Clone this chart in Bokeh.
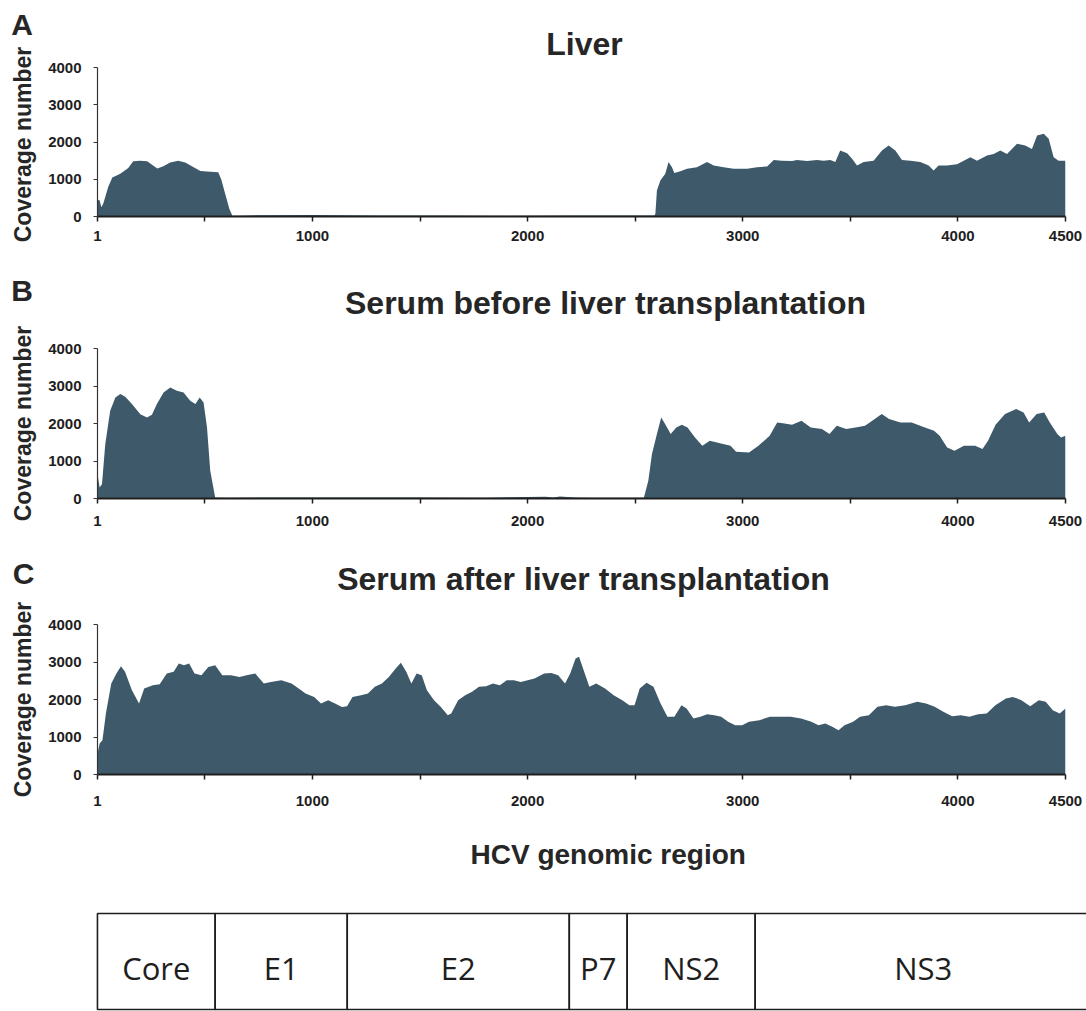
import numpy as np
from bokeh.plotting import figure
from bokeh.layouts import column, row
from bokeh.models import Range1d, FixedTicker
from bokeh.core.properties import value
from bokeh.embed import file_html
from bokeh.resources import INLINE

# ---------------- data ----------------
a_pos = [1, 10, 19, 28, 51, 70, 107, 144, 167, 200, 232, 256, 279, 307, 339, 376, 409, 446, 479, 525,
         562, 576, 595, 614, 628, 700, 1000, 1300, 1600, 1900, 2200, 2500, 2590, 2594, 2601, 2617, 2640,
         2655, 2671, 2682, 2710, 2741, 2787, 2834, 2865, 2911, 2958, 3020, 3066, 3113, 3144, 3182, 3229,
         3252, 3299, 3345, 3376, 3407, 3430, 3453, 3485, 3508, 3531, 3562, 3608, 3647, 3678, 3709, 3740,
         3779, 3825, 3864, 3887, 3910, 3949, 3996, 4027, 4058, 4089, 4135, 4166, 4197, 4228, 4275, 4313,
         4344, 4368, 4399, 4422, 4445, 4468, 4500]
a_cov = [430, 450, 250, 350, 800, 1050, 1150, 1300, 1480, 1500, 1480, 1380, 1290, 1350, 1450, 1500, 1450,
         1330, 1220, 1200, 1190, 1000, 600, 200, 20, 30, 40, 25, 30, 20, 30, 25, 30, 80, 700, 967, 1150,
         1460, 1325, 1165, 1216, 1280, 1325, 1460, 1370, 1325, 1280, 1280, 1325, 1340, 1520, 1500, 1490,
         1520, 1490, 1520, 1500, 1520, 1460, 1770, 1700, 1550, 1370, 1460, 1500, 1770, 1906, 1770, 1520,
         1500, 1460, 1370, 1235, 1370, 1370, 1400, 1500, 1590, 1500, 1640, 1680, 1770, 1680, 1950, 1906,
         1815, 2175, 2220, 2085, 1590, 1500, 1500]

b_pos = [1, 11, 22, 37, 60, 84, 107, 130, 161, 200, 231, 254, 277, 308, 339, 370, 401, 432, 456, 476,
         494, 510, 525, 548, 600, 900, 1200, 1500, 1800, 2083, 2120, 2150, 2222, 2300, 2540, 2543, 2561,
         2578, 2601, 2621, 2639, 2665, 2691, 2717, 2743, 2778, 2812, 2847, 2899, 2943, 2969, 3029, 3073,
         3125, 3160, 3194, 3229, 3273, 3316, 3368, 3403, 3437, 3481, 3524, 3568, 3602, 3646, 3680, 3733,
         3785, 3837, 3889, 3915, 3950, 3984, 4028, 4080, 4114, 4140, 4175, 4219, 4271, 4305, 4331, 4366,
         4401, 4427, 4462, 4479, 4500]
b_cov = [650, 293, 384, 1450, 2339, 2694, 2784, 2712, 2517, 2250, 2160, 2232, 2517, 2827, 2960, 2872,
         2827, 2606, 2517, 2694, 2560, 1893, 739, 27, 20, 30, 25, 30, 20, 50, 30, 55, 25, 20, 20, 80, 472,
         1184, 1717, 2160, 1984, 1717, 1893, 1965, 1893, 1627, 1405, 1539, 1467, 1405, 1245, 1227, 1405,
         1672, 2027, 2000, 1965, 2072, 1893, 1851, 1717, 1939, 1851, 1893, 1939, 2072, 2251, 2118, 2027,
         2027, 1911, 1806, 1672, 1360, 1272, 1405, 1405, 1317, 1539, 1965, 2251, 2384, 2294, 2027, 2251,
         2294, 2027, 1717, 1627, 1672]

c_pos = [1, 11, 24, 40, 65, 89, 110, 129, 161, 194, 218, 258, 290, 323, 355, 379, 403, 427, 452, 484,
         516, 548, 581, 621, 661, 694, 734, 774, 807, 855, 903, 936, 968, 1008, 1040, 1073, 1105, 1137,
         1161, 1186, 1226, 1258, 1290, 1323, 1355, 1387, 1411, 1436, 1460, 1484, 1508, 1532, 1565, 1597,
         1629, 1645, 1677, 1710, 1742, 1774, 1807, 1839, 1871, 1903, 1936, 1968, 2000, 2032, 2077, 2110,
         2142, 2174, 2198, 2223, 2239, 2263, 2287, 2319, 2360, 2400, 2440, 2473, 2497, 2521, 2553, 2585,
         2618, 2650, 2682, 2715, 2739, 2771, 2803, 2835, 2868, 2900, 2932, 2965, 2997, 3029, 3077, 3126,
         3174, 3223, 3271, 3319, 3352, 3384, 3416, 3445, 3473, 3513, 3545, 3586, 3626, 3666, 3707, 3755,
         3811, 3852, 3892, 3932, 3973, 4013, 4053, 4094, 4134, 4174, 4223, 4255, 4295, 4336, 4376, 4408,
         4441, 4473, 4500]
c_cov = [560, 827, 915, 1627, 2427, 2694, 2888, 2737, 2248, 1894, 2293, 2382, 2408, 2694, 2737, 2960,
         2916, 2960, 2694, 2648, 2870, 2916, 2648, 2648, 2603, 2648, 2694, 2427, 2470, 2515, 2427, 2293,
         2160, 2070, 1894, 1982, 1894, 1803, 1820, 2070, 2115, 2160, 2337, 2427, 2603, 2826, 2977, 2737,
         2427, 2694, 2648, 2248, 1982, 1803, 1582, 1627, 1982, 2115, 2204, 2337, 2355, 2427, 2382, 2515,
         2515, 2470, 2515, 2560, 2694, 2710, 2648, 2427, 2694, 3093, 3140, 2737, 2337, 2427, 2293, 2115,
         1982, 1849, 1849, 2293, 2444, 2337, 1894, 1537, 1537, 1849, 1760, 1493, 1537, 1608, 1582, 1537,
         1404, 1316, 1316, 1404, 1449, 1537, 1537, 1537, 1493, 1404, 1316, 1360, 1271, 1182, 1316, 1404,
         1537, 1582, 1804, 1849, 1804, 1849, 1938, 1894, 1804, 1671, 1555, 1582, 1537, 1608, 1627, 1849,
         2026, 2070, 1982, 1822, 1982, 1938, 1715, 1627, 1760]

x_ticks = [1, 500, 1000, 1500, 2000, 2500, 3000, 3500, 4000, 4500]
x_tick_labels = ["1", "", "1000", "", "2000", "", "3000", "", "4000", "4500"]
y_ticks = [0, 1000, 2000, 3000, 4000]
y_label = "Coverage number"

panel_titles = ["Liver", "Serum before liver transplantation", "Serum after liver transplantation"]
panel_letters = ["A", "B", "C"]

gene_names = ["Core", "E1", "E2", "P7", "NS2", "NS3"]
gene_start = [1, 548, 1162, 2194, 2463, 3058]
gene_end = [548, 1162, 2194, 2463, 3058, 4620]
region_title = "HCV genomic region"

# ---------------- style / geometry ----------------
FILL = "#3e5a6a"
INK = "#1e1e1e"
TXT = "#262626"
SANS = "Liberation Sans"
STRIP_W = 44
RIGHT_W = 1086 - STRIP_W
FRAME_L, FRAME_R = 97, 1065          # page x of genome positions 1 and 4500


def page_x_to_genome(px):
    return 1 + (px - FRAME_L) * 4499.0 / (FRAME_R - FRAME_L)


def strip_title(f):
    f.title.visible = False
    f.title.text_font_size = "0px"
    f.title.standoff = 0


def bare(width, height, xr, yr, left=0):
    f = figure(width=width, height=height, x_range=xr, y_range=yr, output_backend="svg",
               toolbar_location=None, x_axis_type=None, y_axis_type=None,
               min_border_left=left, min_border_right=0, min_border_top=0, min_border_bottom=0)
    strip_title(f)
    f.outline_line_color = None
    f.grid.visible = False
    return f


def coverage_panel(pos, cov, title, fig_top, h, frame_top, y4000, y0, title_cx, title_cy, lab_std):
    # frame extends above the 4000 line so that the panel title fits inside it
    per = 4000.0 / (y0 - y4000)
    ymax = (y0 - frame_top) * per
    p = figure(width=RIGHT_W, height=h, x_range=Range1d(1, 4500), y_range=Range1d(0, ymax),
               output_backend="svg", toolbar_location=None,
               min_border_left=FRAME_L - STRIP_W, min_border_right=1086 - FRAME_R,
               min_border_top=frame_top - fig_top, min_border_bottom=fig_top + h - y0)
    strip_title(p)
    p.outline_line_color = None
    p.grid.visible = False
    p.varea(x=pos, y1=0, y2=cov, fill_color=FILL)
    p.text(x=[page_x_to_genome(title_cx)], y=[(y0 - title_cy) * per], text=[title],
           text_font=value(SANS), text_font_style="bold", text_font_size="32px",
           text_align="center", text_baseline="middle", text_color=TXT)

    xa = p.xaxis[0]
    xa.ticker = FixedTicker(ticks=x_ticks, minor_ticks=[])
    xa.major_label_overrides = {t: l for t, l in zip(x_ticks, x_tick_labels)}
    xa.axis_line_width = 2
    xa.axis_line_color = INK
    xa.major_tick_line_color = INK
    xa.major_tick_line_width = 1.5
    xa.major_tick_out = 5
    xa.major_tick_in = 0
    xa.major_label_standoff = lab_std
    xa.major_label_text_font = SANS
    xa.major_label_text_font_style = "bold"
    xa.major_label_text_font_size = "15px"
    xa.major_label_text_color = INK

    ya = p.yaxis[0]
    ya.bounds = (0, 4000)
    ya.ticker = FixedTicker(ticks=y_ticks, minor_ticks=[])
    ya.axis_line_width = 1.2
    ya.axis_line_color = "#333333"
    ya.major_tick_line_color = "#333333"
    ya.major_tick_line_width = 1.2
    ya.major_tick_out = 4
    ya.major_tick_in = 0
    ya.major_label_standoff = 12
    ya.major_label_text_font = SANS
    ya.major_label_text_font_style = "bold"
    ya.major_label_text_font_size = "15px"
    ya.major_label_text_color = INK
    return p


# left strip: panel letters and y-axis titles (page y -> 820 - y)
strip = bare(STRIP_W, 820, Range1d(0, STRIP_W), Range1d(0, 820))
strip.text(x=[21.5, 21.5, 23], y=[796, 530.5, 247], text=panel_letters, text_font=value(SANS),
           text_font_style="bold", text_font_size="30px", text_align="center",
           text_baseline="middle", text_color=TXT)
strip.text(x=[22, 22, 22], y=[676, 397, 121], text=[y_label] * 3, angle=np.pi / 2,
           text_font=value(SANS), text_font_style="bold", text_font_size="23px",
           text_align="center", text_baseline="middle", text_color=TXT)

pA = coverage_panel(a_pos, a_cov, panel_titles[0], 0, 270, 20, 67, 216, 584, 43, 9)
pB = coverage_panel(b_pos, b_cov, panel_titles[1], 270, 275, 280, 348, 498, 605, 302, 12)
pC = coverage_panel(c_pos, c_cov, panel_titles[2], 545, 275, 555, 624, 774, 583, 578, 16)

# gene map panel (page y -> 1011 - y)
pD = bare(1086, 191, Range1d(-22, 4598), Range1d(0, 191), left=92)
pD.quad(left=gene_start, right=gene_end, bottom=2, top=98, fill_color=None,
        line_color=INK, line_width=1.6)
centers = (np.array(gene_start) + np.array(gene_end)) / 2.0
pD.text(x=centers, y=[44] * len(gene_names), text=gene_names, text_font=value("Open Sans"),
        text_font_size="31px", text_align="center", text_baseline="middle", text_color=INK)
pD.text(x=[2375], y=[157], text=[region_title], text_font=value(SANS),
        text_font_style="bold", text_font_size="28px", text_align="center",
        text_baseline="middle", text_color=TXT)

layout = column(row(strip, column(pA, pB, pC)), pD)
open("out.html", "w").write(file_html(layout, INLINE))
